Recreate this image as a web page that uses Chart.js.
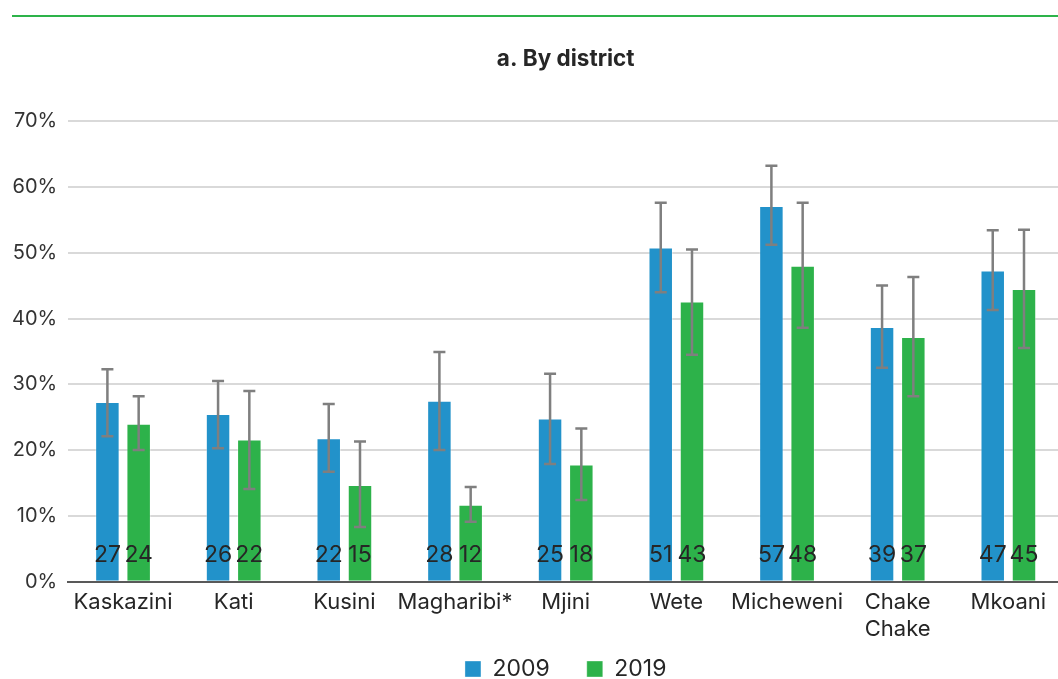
<!DOCTYPE html>
<html>
<head>
<meta charset="utf-8">
<script src="https://cdn.jsdelivr.net/npm/chart.js@4/dist/chart.umd.min.js"></script>
<style>
  html, body { margin: 0; padding: 0; background: #ffffff; overflow: hidden; }
  #wrap { position: relative; width: 1066px; height: 679px; }
  #rule { position: absolute; left: 12px; top: 15px; width: 1060px; height: 2px; background: #2db34a; }
  canvas { position: absolute; left: 0; top: 0; }
</style>
</head>
<body>
<div id="wrap">
  <div id="rule"></div>
  <canvas id="chart" width="1066" height="679"></canvas>
</div>
<script>
// Districts (multi-line labels as arrays)
const districts = [
  ['Kaskazini'], ['Kati'], ['Kusini'], ['Magharibi*'], ['Mjini'],
  ['Wete'], ['Micheweni'], ['Chake', 'Chake'], ['Mkoani']
];

// Share (%) per district, with confidence interval bounds
const share2009 = [27.3, 25.5, 21.8, 27.5, 24.8, 50.8, 57.1, 38.7, 47.3];
const low2009   = [22.1, 20.3, 16.7, 20.0, 17.9, 44.0, 51.2, 32.5, 41.3];
const high2009  = [32.3, 30.5, 27.0, 34.9, 31.6, 57.6, 63.2, 45.0, 53.4];

const share2019 = [24.0, 21.6, 14.7, 11.7, 17.8, 42.6, 48.0, 37.2, 44.5];
const low2019   = [20.0, 14.1,  8.3,  9.1, 12.4, 34.5, 38.6, 28.2, 35.5];
const high2019  = [28.2, 29.0, 21.3, 14.4, 23.3, 50.5, 57.6, 46.3, 53.5];

const seriesNames = ['2009', '2019'];
const yMin = 0, yMax = 70, yStep = 10;

const lows  = [low2009, low2019];
const highs = [high2009, high2019];

const FONT = 'Inter, "Noto Sans", sans-serif';
const TEXT = '#262626';

// Whiskers for the confidence intervals
const errorBars = {
  id: 'errorBars',
  afterDatasetsDraw(chart) {
    const { ctx } = chart;
    const y = chart.scales.y;
    ctx.save();
    ctx.strokeStyle = '#7f7f7f';
    ctx.lineWidth = 2.5;
    chart.data.datasets.forEach((ds, i) => {
      const meta = chart.getDatasetMeta(i);
      meta.data.forEach((bar, j) => {
        const x = bar.x;
        const yl = y.getPixelForValue(lows[i][j]);
        const yh = y.getPixelForValue(highs[i][j]);
        ctx.beginPath();
        ctx.moveTo(x, yl); ctx.lineTo(x, yh);
        ctx.moveTo(x - 6, yh); ctx.lineTo(x + 6, yh);
        ctx.moveTo(x - 6, yl); ctx.lineTo(x + 6, yl);
        ctx.stroke();
      });
    });
    ctx.restore();
  }
};

// Rounded values written near the foot of each bar
const valueLabels = {
  id: 'valueLabels',
  afterDatasetsDraw(chart) {
    const { ctx } = chart;
    const base = chart.scales.y.getPixelForValue(0);
    ctx.save();
    ctx.fillStyle = TEXT;
    ctx.font = '23px ' + FONT;
    ctx.textAlign = 'center';
    ctx.textBaseline = 'alphabetic';
    chart.data.datasets.forEach((ds, i) => {
      const meta = chart.getDatasetMeta(i);
      meta.data.forEach((bar, j) => {
        ctx.fillText(String(Math.round(ds.data[j])), bar.x, base - 19.4);
      });
    });
    ctx.restore();
  }
};

// Legend keeps its wide item spacing but sits just above the bottom edge
const legendPlacement = {
  id: 'legendPlacement',
  afterLayout(chart) {
    const lg = chart.legend;
    if (!lg) return;
    lg.top = 620.5;
    lg.bottom = chart.height;
    lg.height = lg.bottom - lg.top;
  }
};

new Chart(document.getElementById('chart'), {
  type: 'bar',
  data: {
    labels: districts,
    datasets: [
      { label: seriesNames[0], data: share2009, backgroundColor: '#2292ca', borderColor: 'rgba(255,255,255,0.35)', borderWidth: 1 },
      { label: seriesNames[1], data: share2019, backgroundColor: '#2db24a', borderColor: 'rgba(255,255,255,0.35)', borderWidth: 1 }
    ]
  },
  options: {
    responsive: false,
    animation: false,
    devicePixelRatio: 1,
    categoryPercentage: 0.565,
    barPercentage: 0.783,
    layout: { padding: { left: 0, right: 2.3, top: 0, bottom: 0 } },
    scales: {
      x: {
        grid: { display: false },
        border: { display: true, color: '#595959', width: 2 },
        ticks: {
          color: TEXT, padding: -1, maxRotation: 0, autoSkip: false,
          font: { family: FONT, size: 22, lineHeight: 1.227 }
        },
        afterFit(s) { s.height = 62; }
      },
      y: {
        min: yMin, max: yMax,
        ticks: {
          stepSize: yStep, color: '#333333', padding: 10.5,
          font: { family: FONT, size: 20 },
          callback: v => v + '%'
        },
        grid: { color: '#d9d9d9', lineWidth: 2, drawTicks: false },
        border: { display: false },
        afterFit(s) { s.width = 67.7; }
      }
    },
    plugins: {
      title: {
        display: true, text: 'a. By district', fullSize: false,
        color: TEXT, font: { family: FONT, size: 22.5, weight: 'bold', lineHeight: 1.2 },
        padding: { top: 45.5, bottom: 48.6 }
      },
      legend: {
        position: 'bottom', fullSize: false, maxHeight: 35.3,
        labels: {
          boxWidth: 16, boxHeight: 16, padding: 37, color: TEXT,
          font: { family: FONT, size: 23 }
        }
      },
      tooltip: { enabled: false }
    }
  },
  plugins: [errorBars, valueLabels, legendPlacement]
});
</script>
</body>
</html>
